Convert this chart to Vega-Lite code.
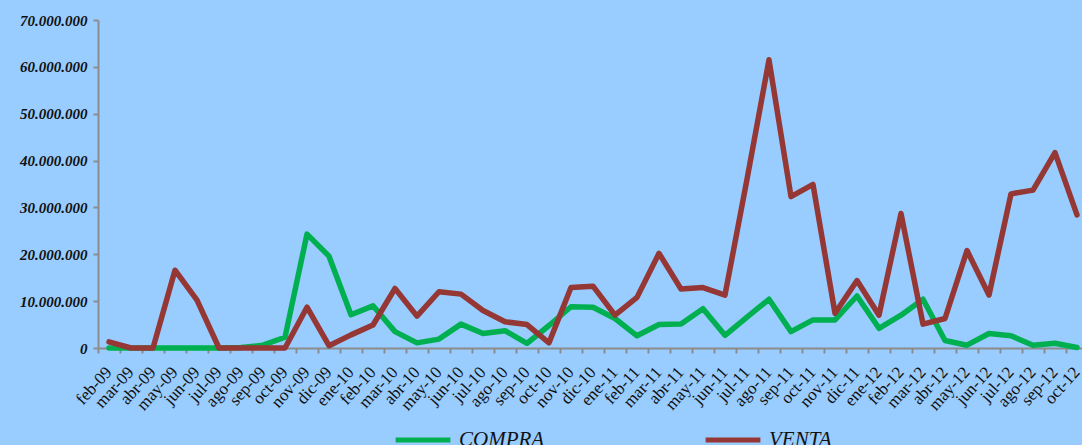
{
  "$schema": "https://vega.github.io/schema/vega-lite/v6.json",
  "autosize": {"type": "none"},
  "padding": {"left": 98, "top": 20, "right": 0, "bottom": 97},
  "width": 990,
  "height": 328,
  "background": "#99CCFF",
  "title": {
    "text": "En US$.",
    "font": "Liberation Serif",
    "fontSize": 28,
    "fontWeight": "bold",
    "color": "#000000",
    "anchor": "middle",
    "baseline": "alphabetic",
    "offset": 17,
    "dx": -56
  },
  "config": {
    "view": {"stroke": null},
    "locale": {"number": {"decimal": ",", "thousands": ".", "grouping": [3], "currency": ["", ""]}}
  },
  "data": {
    "values": [
      {"mes": "feb-09", "COMPRA": 0, "VENTA": 1300000},
      {"mes": "mar-09", "COMPRA": 0, "VENTA": 0},
      {"mes": "abr-09", "COMPRA": 0, "VENTA": 0},
      {"mes": "may-09", "COMPRA": 0, "VENTA": 16600000},
      {"mes": "jun-09", "COMPRA": 0, "VENTA": 10200000},
      {"mes": "jul-09", "COMPRA": 0, "VENTA": 0},
      {"mes": "ago-09", "COMPRA": 100000, "VENTA": 0},
      {"mes": "sep-09", "COMPRA": 600000, "VENTA": 0},
      {"mes": "oct-09", "COMPRA": 2300000, "VENTA": 0},
      {"mes": "nov-09", "COMPRA": 24300000, "VENTA": 8700000},
      {"mes": "dic-09", "COMPRA": 19600000, "VENTA": 500000},
      {"mes": "ene-10", "COMPRA": 7100000, "VENTA": 2800000},
      {"mes": "feb-10", "COMPRA": 9000000, "VENTA": 4900000},
      {"mes": "mar-10", "COMPRA": 3500000, "VENTA": 12700000},
      {"mes": "abr-10", "COMPRA": 1100000, "VENTA": 6800000},
      {"mes": "may-10", "COMPRA": 1900000, "VENTA": 12000000},
      {"mes": "jun-10", "COMPRA": 5100000, "VENTA": 11500000},
      {"mes": "jul-10", "COMPRA": 3100000, "VENTA": 8000000},
      {"mes": "ago-10", "COMPRA": 3700000, "VENTA": 5600000},
      {"mes": "sep-10", "COMPRA": 1000000, "VENTA": 5000000},
      {"mes": "oct-10", "COMPRA": 4800000, "VENTA": 1100000},
      {"mes": "nov-10", "COMPRA": 8800000, "VENTA": 12900000},
      {"mes": "dic-10", "COMPRA": 8700000, "VENTA": 13200000},
      {"mes": "ene-11", "COMPRA": 6300000, "VENTA": 7000000},
      {"mes": "feb-11", "COMPRA": 2600000, "VENTA": 10800000},
      {"mes": "mar-11", "COMPRA": 5000000, "VENTA": 20200000},
      {"mes": "abr-11", "COMPRA": 5100000, "VENTA": 12600000},
      {"mes": "may-11", "COMPRA": 8400000, "VENTA": 12900000},
      {"mes": "jun-11", "COMPRA": 2700000, "VENTA": 11300000},
      {"mes": "jul-11", "COMPRA": 6600000, "VENTA": 36000000},
      {"mes": "ago-11", "COMPRA": 10400000, "VENTA": 61500000},
      {"mes": "sep-11", "COMPRA": 3500000, "VENTA": 32300000},
      {"mes": "oct-11", "COMPRA": 6000000, "VENTA": 34900000},
      {"mes": "nov-11", "COMPRA": 6000000, "VENTA": 7400000},
      {"mes": "dic-11", "COMPRA": 11100000, "VENTA": 14400000},
      {"mes": "ene-12", "COMPRA": 4200000, "VENTA": 7000000},
      {"mes": "feb-12", "COMPRA": 7000000, "VENTA": 28700000},
      {"mes": "mar-12", "COMPRA": 10400000, "VENTA": 5100000},
      {"mes": "abr-12", "COMPRA": 1600000, "VENTA": 6300000},
      {"mes": "may-12", "COMPRA": 600000, "VENTA": 20800000},
      {"mes": "jun-12", "COMPRA": 3100000, "VENTA": 11300000},
      {"mes": "jul-12", "COMPRA": 2600000, "VENTA": 32900000},
      {"mes": "ago-12", "COMPRA": 600000, "VENTA": 33700000},
      {"mes": "sep-12", "COMPRA": 1000000, "VENTA": 41700000},
      {"mes": "oct-12", "COMPRA": 100000, "VENTA": 28400000}
    ]
  },
  "transform": [{"fold": ["COMPRA", "VENTA"], "as": ["serie", "valor"]}],
  "mark": {"type": "line", "strokeWidth": 5.5, "strokeJoin": "round", "strokeCap": "round"},
  "encoding": {
    "x": {
      "field": "mes",
      "type": "ordinal",
      "sort": null,
      "scale": {"type": "band", "paddingInner": 0, "paddingOuter": 0},
      "axis": {
        "title": null,
        "labelAngle": -48,
        "labelAlign": "right",
        "labelBaseline": "middle",
        "labelPadding": 16,
        "labelFont": "Liberation Serif",
        "labelFontSize": 17,
        "labelColor": "#111111",
        "labelOverlap": false,
        "bandPosition": 0,
        "domainColor": "#8c8c8c",
        "domainWidth": 2,
        "tickColor": "#8c8c8c",
        "tickWidth": 2,
        "tickSize": 5,
        "grid": false
      }
    },
    "y": {
      "field": "valor",
      "type": "quantitative",
      "scale": {"domain": [0, 70000000], "nice": false},
      "axis": {
        "title": null,
        "values": [0, 10000000, 20000000, 30000000, 40000000, 50000000, 60000000, 70000000],
        "format": ",d",
        "labelFont": "Liberation Serif",
        "labelFontStyle": "italic",
        "labelFontWeight": "bold",
        "labelFontSize": 15,
        "labelColor": "#111111",
        "labelPadding": 6,
        "domainColor": "#8c8c8c",
        "domainWidth": 2,
        "tickColor": "#8c8c8c",
        "tickWidth": 2,
        "tickSize": 5,
        "grid": false
      }
    },
    "color": {
      "field": "serie",
      "type": "nominal",
      "scale": {"domain": ["COMPRA", "VENTA"], "range": ["#00B050", "#953735"]},
      "legend": {
        "title": null,
        "orient": "none",
        "direction": "horizontal",
        "legendX": 295,
        "legendY": 390,
        "symbolType": "stroke",
        "symbolStrokeWidth": 5,
        "symbolSize": 3000,
        "labelFont": "Liberation Serif",
        "labelFontStyle": "italic",
        "labelFontSize": 21,
        "labelColor": "#111111",
        "labelOffset": 6,
        "columnPadding": 150
      }
    }
  }
}
